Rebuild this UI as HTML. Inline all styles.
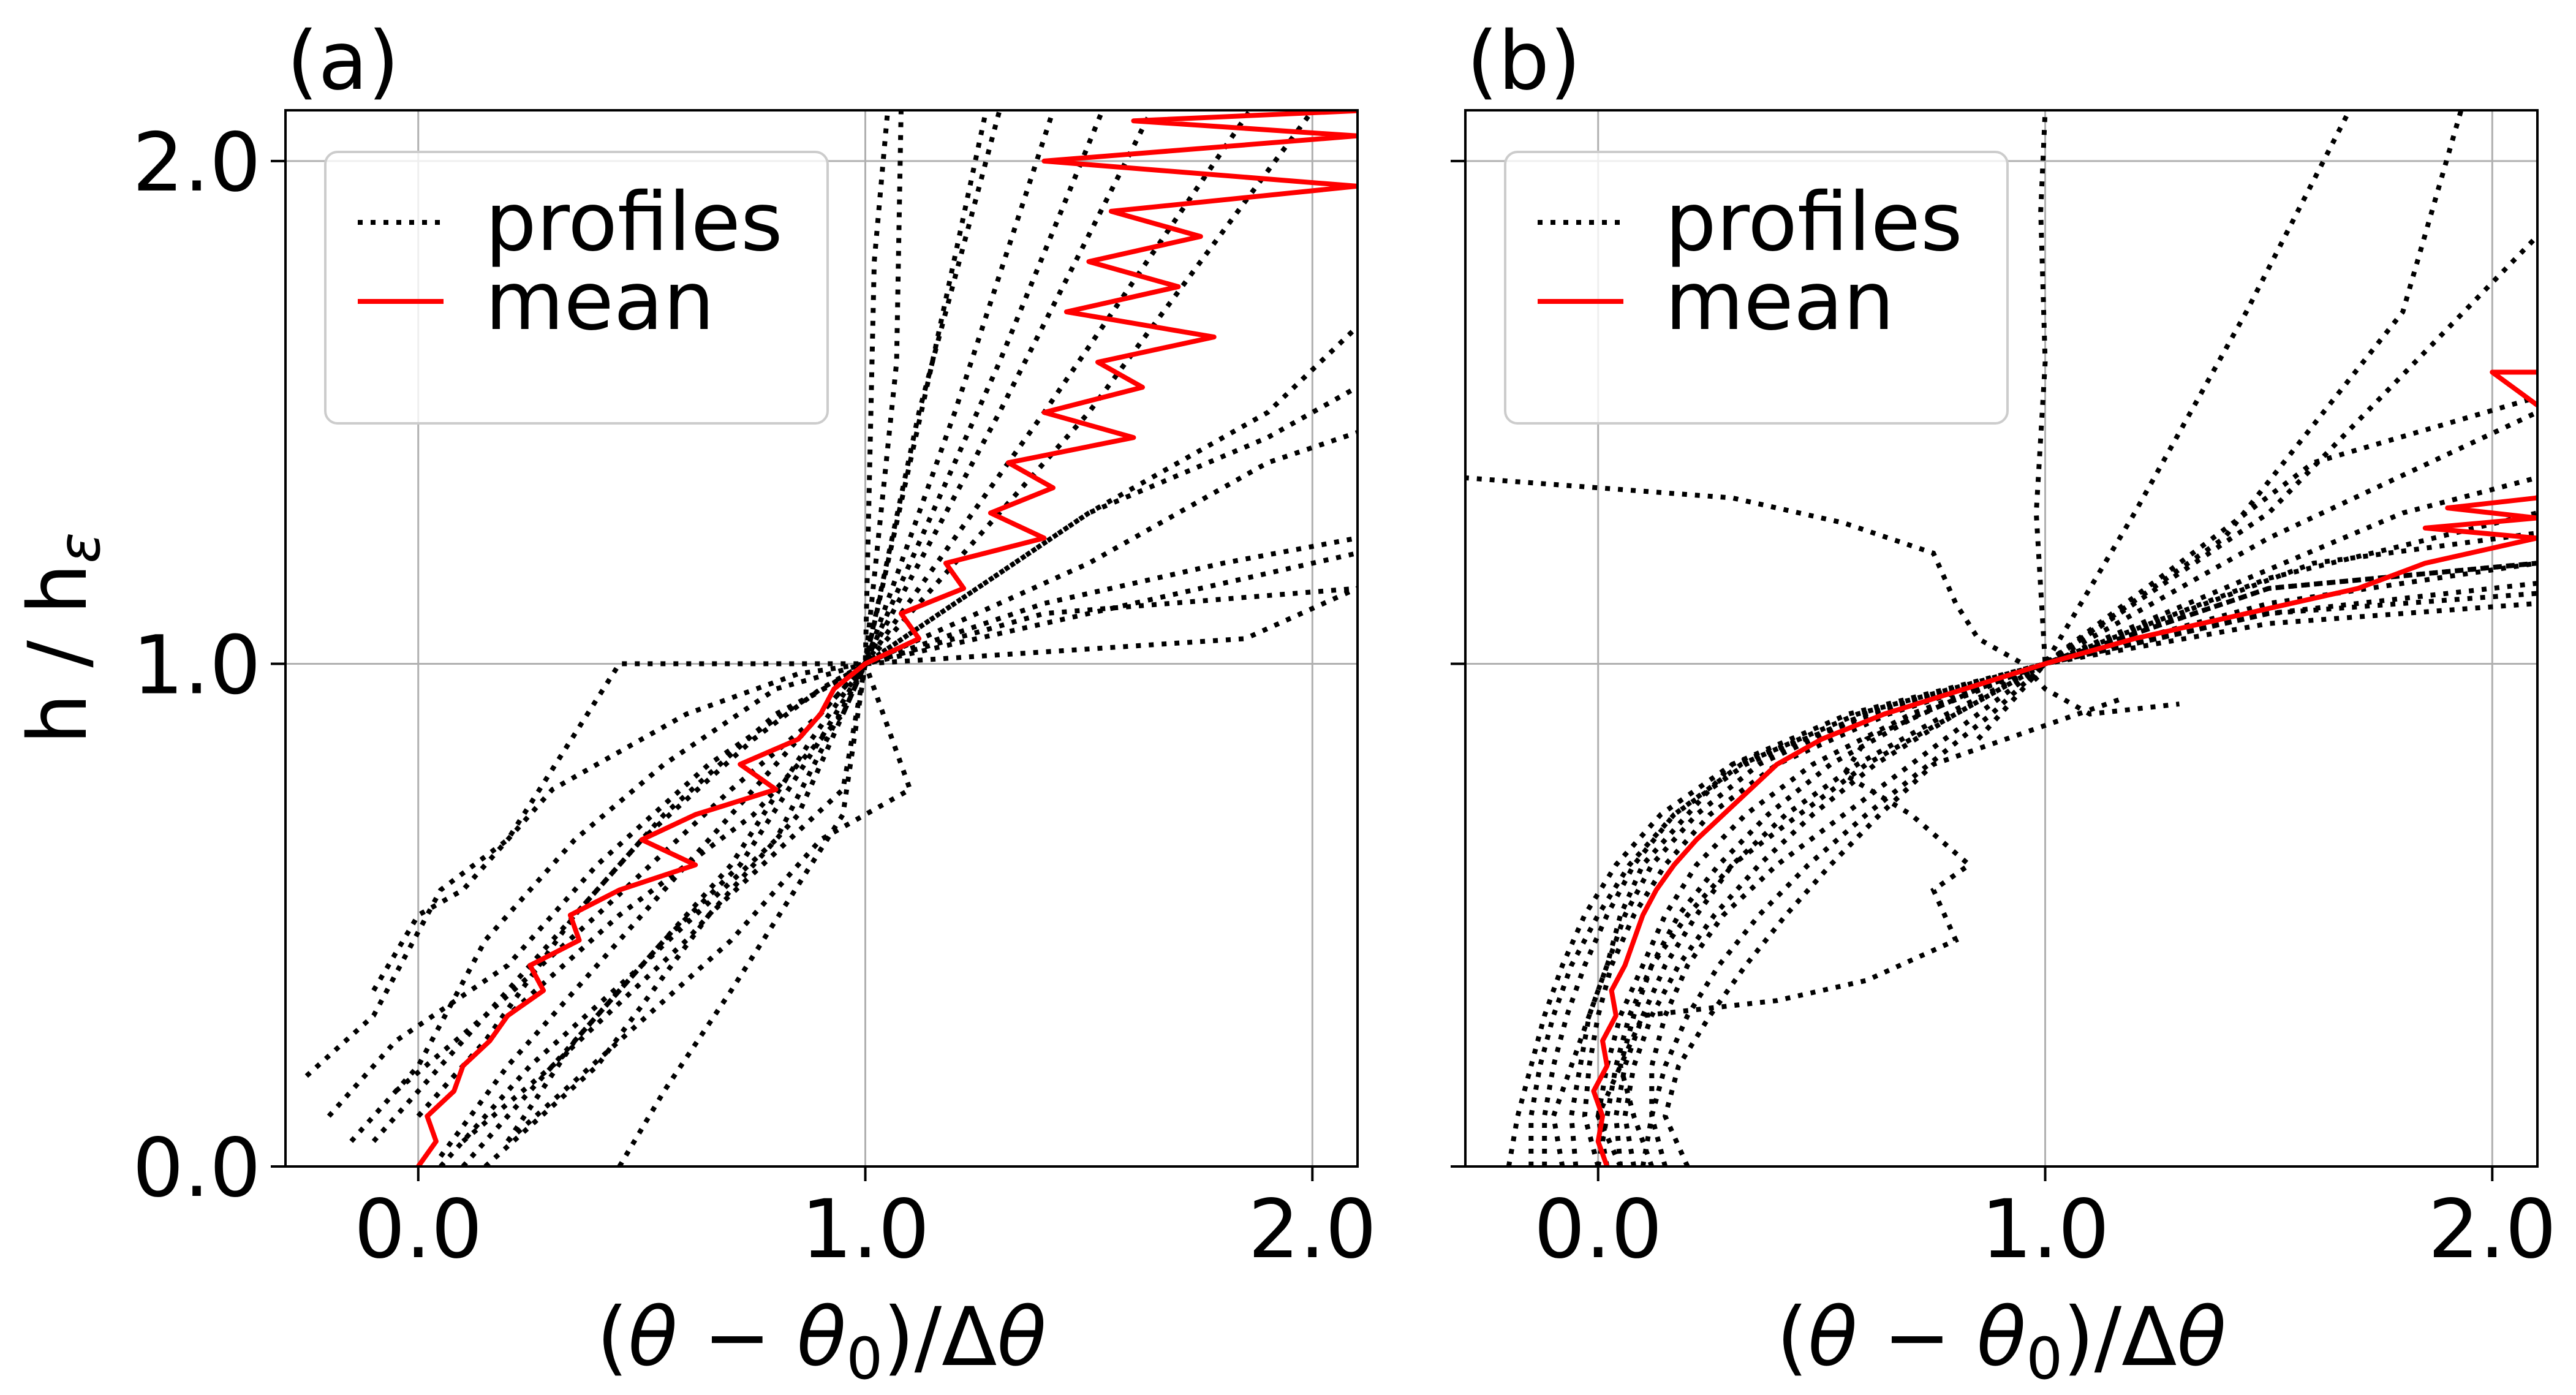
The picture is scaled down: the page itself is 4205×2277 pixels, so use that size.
<!DOCTYPE html>
<html><head><meta charset="utf-8">
<style>
html,body{margin:0;padding:0;background:#fff;}
svg{display:block;}
text{font-family:"DejaVu Sans","Liberation Sans",sans-serif;fill:#000;}
</style></head>
<body>
<svg id="fig" width="4205" height="2277" viewBox="0 0 4205 2277" xmlns="http://www.w3.org/2000/svg">
<rect width="4205" height="2277" fill="#fff"/>
<defs>
<clipPath id="clipA"><rect x="466" y="180" width="1750" height="1724"/></clipPath>
<clipPath id="clipB"><rect x="2392" y="180" width="1750" height="1724"/></clipPath>
</defs>
<g id="panelA"></g>
<g id="panelB"></g>
</svg>
<script>
// ---------- data ----------
const xTicks = [0, 1, 2];
const yTicks = [0, 1, 2];
const xTickLabels = ["0.0", "1.0", "2.0"];
const yTickLabels = ["0.0", "1.0", "2.0"];

const profilesA = [
 {x:[-0.25,-0.1,0.05,0.2,0.45,1.0,1.85,2.1], y:[0.18,0.3,0.55,0.65,1.0,1.0,1.05,1.15]},
 {x:[-0.15,0.0,0.15,0.35,0.55,0.8,1.0,1.07,1.08], y:[0.05,0.2,0.45,0.65,0.8,0.95,1.0,1.6,2.1]},
 {x:[-0.2,-0.05,0.2,0.4,0.65,0.85,1.0,1.15,1.27], y:[0.1,0.25,0.4,0.6,0.8,0.92,1.0,1.6,2.1]},
 {x:[-0.1,0.1,0.3,0.5,0.75,0.9,1.0,1.2,1.42], y:[0.05,0.25,0.45,0.65,0.85,0.95,1.0,1.5,2.1]},
 {x:[0.0,0.15,0.35,0.55,0.8,0.95,1.0,1.3,1.53], y:[0.1,0.25,0.5,0.7,0.9,0.97,1.0,1.6,2.1]},
 {x:[0.05,0.2,0.4,0.6,0.8,1.0,1.3,1.64], y:[0.02,0.2,0.4,0.6,0.8,1.0,1.5,2.1]},
 {x:[0.1,0.3,0.5,0.7,0.88,1.0,1.4,1.86], y:[0.0,0.2,0.4,0.6,0.85,1.0,1.5,2.1]},
 {x:[0.2,0.35,0.55,0.72,0.9,1.0,1.5,2.0], y:[0.05,0.25,0.45,0.6,0.85,1.0,1.5,2.1]},
 {x:[-0.05,0.15,0.4,0.7,0.9,1.0,1.5,1.9,2.1], y:[0.15,0.3,0.5,0.75,0.9,1.0,1.3,1.5,1.67]},
 {x:[0.0,0.2,0.45,0.75,0.95,1.0,1.5,1.9,2.1], y:[0.1,0.3,0.5,0.7,0.9,1.0,1.3,1.45,1.55]},
 {x:[0.05,0.25,0.5,0.8,1.0,1.5,1.9,2.1], y:[0.0,0.2,0.4,0.65,1.0,1.2,1.4,1.46]},
 {x:[0.1,0.3,0.6,0.85,1.0,1.4,1.8,2.1], y:[0.05,0.2,0.45,0.7,1.0,1.12,1.2,1.25]},
 {x:[0.15,0.4,0.65,0.95,1.0,1.5,2.1], y:[0.0,0.2,0.5,0.75,1.0,1.1,1.22]},
 {x:[0.2,0.45,0.7,0.9,1.1,1.0,1.4,2.1], y:[0.05,0.25,0.45,0.65,0.75,1.0,1.1,1.15]},
 {x:[-0.1,0.0,0.1,0.3,0.6,0.85,1.0,1.02,1.05], y:[0.35,0.5,0.55,0.75,0.9,0.98,1.0,1.8,2.1]},
 {x:[0.45,0.55,0.7,0.95,1.0,1.12,1.3], y:[0.0,0.15,0.35,0.7,1.0,1.5,2.1]}
];
const meanAy = [0,0.05,0.1,0.15,0.2,0.25,0.3,0.35,0.4,0.45,0.5,0.55,0.6,0.65,0.7,0.75,0.8,0.85,0.9,0.95,1.0,1.05,1.1,1.15,1.2,1.25,1.3,1.35,1.4,1.45,1.5,1.55,1.6,1.65,1.7,1.75,1.8,1.85,1.9,1.95,2.0,2.05,2.08,2.1];
const meanAx = [0.0,0.04,0.02,0.08,0.10,0.16,0.20,0.28,0.25,0.36,0.34,0.45,0.62,0.50,0.62,0.80,0.72,0.85,0.90,0.93,1.0,1.12,1.08,1.22,1.18,1.40,1.28,1.42,1.32,1.60,1.40,1.62,1.52,1.78,1.45,1.70,1.50,1.75,1.55,2.10,1.40,2.10,1.60,2.10];

const yStd = [0,0.1,0.2,0.3,0.4,0.5,0.6,0.7,0.8,0.9,1.0];
const profilesB = [
 {x:[0.85,0.95,1.0,0.98,1.0,0.99,1.0], y:[0.85,0.95,1.0,1.3,1.6,1.9,2.1]},
 {x:[-0.3,0.0,0.3,0.55,0.75,0.8,0.85,0.95,1.0,1.1,1.3], y:[1.37,1.35,1.33,1.28,1.22,1.12,1.05,1.0,0.95,0.9,0.92]},
 {x:[0.05,0.0,0.1,0.4,0.6,0.8,0.75,0.83,0.7,0.55,0.6,0.85,1.0,1.5,2.1], y:[0.0,0.1,0.3,0.33,0.37,0.45,0.55,0.6,0.7,0.78,0.85,0.95,1.0,1.15,1.2]},
 {x:[-0.05,-0.06,-0.04,-0.02,0.02,0.06,0.12,0.22,0.36,0.6,1.0,1.5,2.1], y:yStd.concat([1.1,1.14])},
 {x:[-0.12,-0.12,-0.1,-0.07,-0.03,0.02,0.08,0.17,0.32,0.58,1.0,1.5,2.1], y:yStd.concat([1.08,1.12])},
 {x:[0.0,0.02,0.04,0.07,0.12,0.18,0.27,0.38,0.52,0.72,1.0,1.4,1.8,2.1], y:yStd.concat([1.15,1.3,1.37])},
 {x:[0.08,0.06,0.08,0.12,0.18,0.26,0.36,0.48,0.62,0.8,1.0,1.3,1.6,2.1], y:yStd.concat([1.2,1.4,1.53])},
 {x:[0.05,0.04,0.06,0.1,0.15,0.22,0.3,0.42,0.58,0.78,1.0,1.2,1.45,1.68], y:yStd.concat([1.3,1.7,2.1])},
 {x:[-0.2,-0.18,-0.15,-0.12,-0.08,-0.03,0.04,0.14,0.3,0.56,1.0,1.4,1.8,1.93], y:yStd.concat([1.25,1.7,2.1])},
 {x:[0.15,0.12,0.12,0.15,0.2,0.28,0.4,0.55,0.7,0.85,1.0,1.5,2.1], y:yStd.concat([1.15,1.2])},
 {x:[0.0,-0.03,-0.02,0.0,0.03,0.08,0.15,0.25,0.4,0.65,1.0,1.5,2.1], y:yStd.concat([1.3,1.85])},
 {x:[0.1,0.12,0.15,0.2,0.27,0.36,0.47,0.6,0.74,0.88,1.0,1.5,2.1], y:yStd.concat([1.1,1.16])},
 {x:[0.2,0.15,0.18,0.25,0.33,0.42,0.52,0.63,0.75,1.17], y:[0,0.1,0.2,0.3,0.4,0.5,0.6,0.7,0.8,0.93]},
 {x:[-0.15,-0.15,-0.13,-0.1,-0.06,0.0,0.07,0.17,0.33,0.6,1.0,1.5,2.1], y:yStd.concat([1.25,1.5])},
 {x:[0.02,0.0,0.02,0.05,0.1,0.15,0.22,0.33,0.48,0.7,1.0,1.6,2.1], y:yStd.concat([1.2,1.26])},
 {x:[-0.08,-0.1,-0.06,-0.02,0.02,0.05,0.1,0.2,0.3,0.62,1.0,1.5,2.1], y:yStd.concat([1.12,1.2])},
 {x:[0.12,0.08,0.05,0.08,0.12,0.2,0.3,0.45,0.6,0.8,1.0,1.5,2.1], y:yStd.concat([1.17,1.3])}
];
const meanBy = [0,0.05,0.1,0.15,0.2,0.25,0.3,0.35,0.4,0.45,0.5,0.55,0.6,0.65,0.7,0.75,0.8,0.85,0.9,0.95,1.0,1.05,1.1,1.15,1.2,1.25,1.27,1.29,1.31,1.33,1.45,1.58,1.58];
const meanBx = [0.02,0.0,0.01,-0.01,0.02,0.01,0.04,0.03,0.06,0.08,0.10,0.13,0.17,0.22,0.28,0.34,0.40,0.50,0.64,0.82,1.0,1.2,1.45,1.7,1.85,2.1,1.85,2.1,1.9,2.1,2.2,2.0,2.2];

// ---------- drawing ----------
const NS = "http://www.w3.org/2000/svg";
const Y0 = 1904, YTOP = 180, W = 1750;
const xMin = -0.297, xMax = 2.101, yMin = 0, yMax = 2.101;
const FS = 132;
function mk(tag, attrs, parent){ const e=document.createElementNS(NS,tag); for(const k in attrs) e.setAttribute(k,attrs[k]); parent.appendChild(e); return e; }
function xScale(left, v){ return left + (v - xMin) / (xMax - xMin) * W; }
function yScale(v){ return Y0 - (v - yMin) / (yMax - yMin) * (Y0 - YTOP); }

function drawPanel(gid, left, clipId, profiles, mx, my, label, showYLabels){
  const g = document.getElementById(gid);
  xTicks.forEach(t=>{
    const l = mk('line',{x1:xScale(left,t),x2:xScale(left,t),y1:YTOP,y2:Y0,stroke:'#b0b0b0','stroke-width':3},g);
    
    
  });
  yTicks.forEach(t=>{
    const l = mk('line',{x1:left,x2:left+W,y1:yScale(t),y2:yScale(t),stroke:'#b0b0b0','stroke-width':3},g);
    
    
  });
  const pg = mk('g',{'clip-path':'url(#'+clipId+')'},g);
  
  
  profiles.forEach((p,i)=>{
    const pts = p.x.map((v,j)=>xScale(left,v).toFixed(1)+','+yScale(p.y[j]).toFixed(1)).join(' ');
    const pl = mk('polyline',{points:pts,fill:'none',stroke:'#000','stroke-width':8,'stroke-dasharray':'8 13'},pg);
    
    
  });
  const mpts = mx.map((v,j)=>xScale(left,v).toFixed(1)+','+yScale(my[j]).toFixed(1)).join(' ');
  const ml = mk('polyline',{points:mpts,fill:'none',stroke:'#ff0000','stroke-width':8,'stroke-linejoin':'round'},pg);
  
  
  const fr = mk('rect',{x:left,y:YTOP,width:W,height:Y0-YTOP,fill:'none',stroke:'#000','stroke-width':4},g);
  
  
  xTicks.forEach((t,i)=>{
    const x=xScale(left,t);
    const tk = mk('line',{x1:x,x2:x,y1:Y0,y2:Y0+24,stroke:'#000','stroke-width':4},g);
    
    
    const tl = mk('text',{x:x,y:2052,'text-anchor':'middle','font-size':FS},g);
    tl.textContent = xTickLabels[i];
    
    
  });
  yTicks.forEach((t,i)=>{
    const y=yScale(t);
    const tk = mk('line',{x1:left-24,x2:left,y1:y,y2:y,stroke:'#000','stroke-width':4},g);
    
    
    if(showYLabels){
      const tl = mk('text',{x:left-40,y:y+48,'text-anchor':'end','font-size':FS},g);
      tl.textContent = yTickLabels[i];
      
      
    }
  });
  const xt = mk('text',{x:left+W/2,y:2228,'text-anchor':'middle','font-size':FS},g);
  xt.innerHTML = '(<tspan font-style="italic">θ</tspan> − <tspan font-style="italic">θ</tspan><tspan font-size="94" dy="22">0</tspan><tspan dy="-22">)/Δ</tspan><tspan font-style="italic">θ</tspan>';
  
  
  const pl = mk('text',{x:left+2,y:145,'font-size':FS},g);
  pl.textContent = label;
  
  
  const lg = mk('g',{},g);
  
  
  const lx = left + 65;
  mk('rect',{x:lx,y:248,width:820,height:443,rx:20,fill:'#fff','fill-opacity':0.8,stroke:'#cccccc','stroke-width':4},lg);
  const e1 = mk('line',{x1:lx+53,x2:lx+193,y1:363,y2:363,stroke:'#000','stroke-width':8,'stroke-dasharray':'8 13'},lg);
  
  
  const t1 = mk('text',{x:lx+261,y:408,'font-size':FS},lg);
  t1.textContent='profiles';
  
  
  const e2 = mk('line',{x1:lx+53,x2:lx+193,y1:492,y2:492,stroke:'#ff0000','stroke-width':8},lg);
  
  
  const t2 = mk('text',{x:lx+261,y:537,'font-size':FS},lg);
  t2.textContent='mean';
  
  
}
drawPanel('panelA',466,'clipA',profilesA,meanAx,meanAy,'(a)',true);
drawPanel('panelB',2392,'clipB',profilesB,meanBx,meanBy,'(b)',false);

const fig = document.getElementById('fig');
const yl = document.createElementNS(NS,'text');
yl.setAttribute('transform','translate(140,1042) rotate(-90)');
yl.setAttribute('text-anchor','middle');
yl.setAttribute('font-size','132');
yl.innerHTML = 'h / h<tspan font-size="94" dy="22" font-style="italic">ε</tspan>';


fig.appendChild(yl);
</script>
</body></html>
